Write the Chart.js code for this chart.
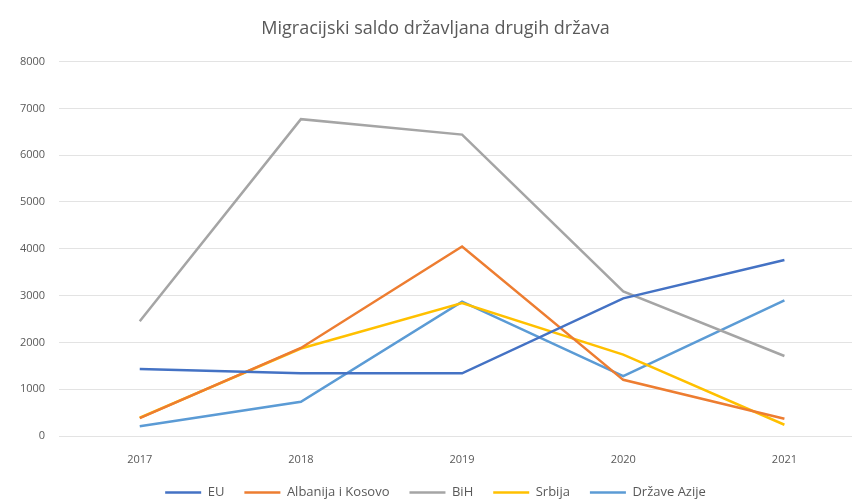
<!DOCTYPE html>
<html>
<head>
<meta charset="utf-8">
<script src="https://cdn.jsdelivr.net/npm/chart.js@4/dist/chart.umd.min.js"></script>
<style>
  html, body { margin: 0; padding: 0; background: #fff; overflow: hidden; }
  #wrap { width: 880px; height: 499px; }
</style>
</head>
<body>
<div id="wrap"><canvas id="myChart"></canvas></div>
<script>
// 데이터
const years = ['2017', '2018', '2019', '2020', '2021'];
const euData = [1430, 1340, 1340, 2940, 3760];
const albanijaData = [380, 1880, 4050, 1200, 370];
const bihData = [2450, 6770, 6440, 3090, 1710];
const srbijaData = [390, 1870, 2840, 1740, 240];
const azijaData = [210, 730, 2870, 1280, 2900];

// 시리즈 색상
const seriesColors = ['#4472C4', '#ED7D31', '#A5A5A5', '#FFC000', '#5B9BD5'];
const seriesNames = ['EU', 'Albanija i Kosovo', 'BiH', 'Srbija', 'Države Azije'];
const seriesData = [euData, albanijaData, bihData, srbijaData, azijaData];

// 라인 데이터셋 생성
function createDataset(name, values, color){
    return {
        label: name,
        data: values,
        borderColor: color,
        backgroundColor: color,
        borderWidth: 2.5,
        pointRadius: 0,
        pointStyle: 'line',
        fill: false,
        tension: 0
    };
}

const ctx = document.getElementById('myChart');
const lineChart = new Chart(ctx, {
    type: 'line',
    data: {
        labels: years,
        datasets: seriesNames.map((n, i) => createDataset(n, seriesData[i], seriesColors[i]))
    },
    options: {
        responsive: true,
        maintainAspectRatio: false,
        animation: false,
        layout: { padding: { left: 6, right: 15, top: 12, bottom: -10 } },
        plugins: {
            title: {
                display: true,
                text: 'Migracijski saldo državljana drugih država',
                color: '#595959',
                font: { family: 'Open Sans', size: 18, weight: 'normal' },
                padding: { top: 6, bottom: 22 }
            },
            legend: {
                position: 'bottom',
                labels: {
                    usePointStyle: true,
                    pointStyle: 'line',
                    pointStyleWidth: 36,
                    color: '#595959',
                    font: { family: 'Open Sans', size: 13 },
                    padding: 20
                }
            },
            tooltip: { enabled: false }
        },
        scales: {
            x: {
                offset: true,
                grid: { display: false },
                border: { display: false },
                ticks: { color: '#595959', font: { family: 'Open Sans', size: 11 }, padding: 9 },
                afterFit: (axis) => { axis.height = 30; }  // 축 높이 고정
            },
            y: {
                min: 0,
                max: 8000,
                ticks: {
                    stepSize: 1000,
                    color: '#595959',
                    font: { family: 'Open Sans', size: 11 },
                    padding: 14,
                    callback: (v) => String(v)
                },
                grid: { color: '#e3e3e3', drawTicks: false },
                border: { display: false }
            }
        }
    }
});
</script>
</body>
</html>
